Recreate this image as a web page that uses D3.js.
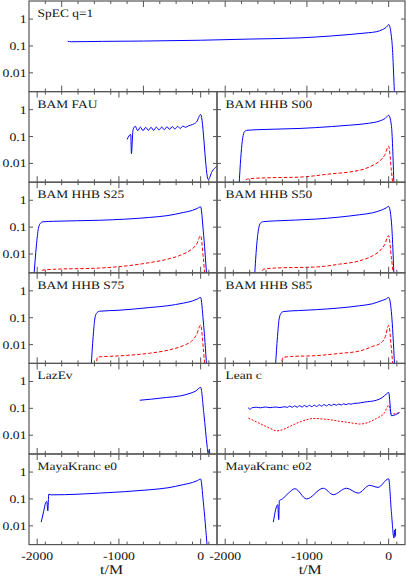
<!DOCTYPE html>
<html>
<head>
<meta charset="utf-8">
<script src="https://cdn.jsdelivr.net/npm/d3@7"></script>
<style>
body { margin: 0; background: #fff; }
text { text-rendering: geometricPrecision; }
</style>
</head>
<body>
<div id="chart"></div>
<script>
// waveform amplitude, [t/M, |h|]
var spec_q1 = [[-3926,0.148],[-3880,0.143],[-3500,0.148],[-3000,0.152],[-2300,0.163],[-1700,0.18],[-1083,0.2],[-700,0.235],[-471,0.267],[-250,0.31],[-144,0.34],[-80,0.4],[-43,0.46],[-15,0.55],[0,0.63],[39,0.16],[71,0.0015]];

var bam_fau = [[-900,0.078],[-855,0.12],[-847,0.023],[-827,0.18],[-800,0.24],[-770,0.165],[-737,0.225],[-705,0.165],[-672,0.22],[-640,0.17],[-607,0.22],[-575,0.17],[-542,0.225],[-510,0.175],[-477,0.225],[-445,0.18],[-412,0.23],[-380,0.185],[-347,0.235],[-315,0.19],[-282,0.24],[-250,0.2],[-217,0.245],[-185,0.22],[-150,0.25],[-100,0.28],[-50,0.35],[0,0.66],[93,0.0025],[140,0.005],[196,0.0078]];

var s00_blue = [[-1830,0.0015],[-1810,0.015],[-1790,0.07],[-1770,0.14],[-1740,0.17],[-1600,0.18],[-1085,0.2],[-700,0.235],[-476,0.265],[-250,0.31],[-110,0.38],[-40,0.48],[0,0.62],[33,0.265],[65,0.0015]];
var s00_red = [[-1760,0.0015],[-1745,0.0025],[-1700,0.0027],[-1500,0.0029],[-1085,0.0031],[-700,0.0041],[-476,0.0048],[-300,0.0062],[-190,0.0086],[-100,0.013],[-50,0.02],[0,0.044],[33,0.0056],[52,0.0015]];

var s25_blue = [[-2040,0.0015],[-2010,0.02],[-1985,0.09],[-1960,0.14],[-1931,0.158],[-1800,0.165],[-1236,0.18],[-622,0.23],[-400,0.27],[-213,0.35],[-100,0.42],[-40,0.5],[0,0.57],[32,0.073],[74,0.0015]];
var s25_red = [[-1955,0.0015],[-1935,0.0025],[-1800,0.0027],[-1236,0.003],[-622,0.0048],[-400,0.0065],[-213,0.01],[-100,0.016],[-50,0.023],[0,0.048],[32,0.0075],[52,0.0015]];

var s50_blue = [[-1640,0.0015],[-1615,0.02],[-1590,0.09],[-1570,0.14],[-1533,0.16],[-1400,0.17],[-882,0.2],[-354,0.29],[-200,0.34],[-89,0.43],[-30,0.52],[0,0.59],[33,0.17],[65,0.0015]];
var s50_red = [[-1555,0.0015],[-1535,0.0027],[-1400,0.003],[-882,0.0033],[-600,0.0042],[-354,0.0056],[-200,0.0085],[-110,0.013],[-50,0.022],[0,0.048],[33,0.0075],[60,0.0015]];

var s75_blue = [[-1340,0.0015],[-1315,0.02],[-1295,0.09],[-1276,0.143],[-1236,0.175],[-1000,0.19],[-622,0.24],[-400,0.28],[-213,0.35],[-100,0.42],[-40,0.5],[0,0.57],[32,0.076],[74,0.0015]];
var s75_red = [[-1280,0.0015],[-1262,0.0034],[-1236,0.0035],[-1000,0.0038],[-622,0.0048],[-400,0.0062],[-213,0.0092],[-100,0.0145],[-50,0.0236],[0,0.053],[32,0.0074],[52,0.0015]];

var s85_blue = [[-1385,0.0015],[-1360,0.02],[-1340,0.09],[-1320,0.14],[-1289,0.17],[-1100,0.185],[-882,0.2],[-354,0.28],[-200,0.33],[-89,0.43],[-30,0.5],[0,0.57],[33,0.17],[73,0.0015]];
var s85_red = [[-1315,0.0015],[-1295,0.0033],[-1200,0.0036],[-882,0.0039],[-600,0.0047],[-354,0.0058],[-200,0.0085],[-89,0.0119],[-40,0.02],[0,0.052],[33,0.0075],[52,0.0015]];

var lazev = [[-745,0.2],[-600,0.22],[-417,0.254],[-250,0.29],[-131,0.36],[-60,0.44],[0,0.6],[40,0.06],[81,0.0035],[93,0.0018],[106,0.003],[114,0.0015]];

var lean_blue = [[-1716,0.107],[-1700,0.092],[-1670,0.105],[-1620,0.11],[-1570,0.105],[-1510,0.112],[-1450,0.106],[-1390,0.112],[-1330,0.107],[-1270,0.115],[-1240,0.108],[-1210,0.122],[-1180,0.109],[-1150,0.124],[-1120,0.11],[-1090,0.126],[-1060,0.112],[-1030,0.128],[-1000,0.113],[-970,0.13],[-940,0.115],[-910,0.132],[-880,0.117],[-850,0.135],[-820,0.12],[-790,0.138],[-760,0.123],[-730,0.14],[-700,0.126],[-670,0.143],[-640,0.13],[-610,0.145],[-580,0.133],[-550,0.148],[-520,0.137],[-490,0.15],[-460,0.142],[-430,0.152],[-380,0.155],[-300,0.17],[-150,0.2],[-80,0.25],[-28,0.34],[0,0.39],[33,0.053],[134,0.07]];
var lean_red = [[-1716,0.043],[-1650,0.035],[-1550,0.025],[-1450,0.018],[-1370,0.0145],[-1300,0.016],[-1200,0.022],[-1100,0.03],[-1000,0.038],[-923,0.042],[-800,0.04],[-700,0.037],[-600,0.033],[-500,0.03],[-400,0.027],[-354,0.026],[-250,0.03],[-150,0.042],[-50,0.069],[0,0.13],[33,0.061],[134,0.07]];

var maya_e0 = [[-1951,0.0137],[-1920,0.035],[-1898,0.07],[-1882,0.081],[-1870,0.036],[-1858,0.15],[-1828,0.142],[-1500,0.15],[-1236,0.165],[-622,0.22],[-400,0.26],[-213,0.34],[-100,0.41],[-40,0.48],[0,0.55],[32,0.081],[81,0.0015]];
var maya_e02 = [[-1411,0.0137],[-1357,0.061],[-1345,0.017],[-1337,0.086],[-1300,0.1],[-1230,0.16],[-1146,0.24],[-1004,0.1],[-800,0.25],[-678,0.144],[-516,0.25],[-373,0.165],[-232,0.32],[-130,0.27],[0,0.56],[33,0.034],[65,0.0035],[73,0.007],[80,0.004],[85,0.0078]];

var panel_labels = ['SpEC q=1', 'BAM FAU', 'BAM HHB S00', 'BAM HHB S25', 'BAM HHB S50',
    'BAM HHB S75', 'BAM HHB S85', 'LazEv', 'Lean c', 'MayaKranc e0', 'MayaKranc e02'];
var blue_series = [spec_q1, bam_fau, s00_blue, s25_blue, s50_blue, s75_blue, s85_blue, lazev, lean_blue, maya_e0, maya_e02];
var red_series = [null, null, s00_red, s25_red, s50_red, s75_red, s85_red, null, lean_red, null, null];

var y_ticks = [1, 0.1, 0.01];
var y_tick_labels = ['1', '0.1', '0.01'];
var x_major = [-4000, -3000, -2000, -1000, 0];

var chart_width = 407;
var chart_height = 578;
var x_left = 29, x_mid = 217, x_right = 405;
var panel_top = 1, panel_h = 90.6;
var frame_color = '#555';

var svg = d3.select('#chart')
    .append('svg')
    .attr('width', chart_width)
    .attr('height', chart_height);

var y = d3.scaleLog()
    .domain([0.002, 4.7])
    .range([panel_h, 0]);

function add_text(g, x, y0, txt, size, anchor) {
    return g.append('text')
        .attr('transform', 'translate(' + x + ',' + y0 + ') scale(1.18,1)')
        .attr('text-anchor', anchor)
        .attr('font-family', 'Liberation Serif')
        .attr('font-size', size)
        .attr('fill', '#111')
        .text(txt);
}

panel_labels.forEach(function(label, i) {
    var row, x0, x1, domain;
    if (i === 0) {
        row = 0; x0 = x_left; x1 = x_right; domain = [-4400, 200];
    } else {
        row = Math.ceil(i / 2);
        x0 = (i % 2 === 1) ? x_left : x_mid;
        x1 = (i % 2 === 1) ? x_mid : x_right;
        domain = [-2100, 200];
    }
    var w = x1 - x0;
    var top = panel_top + row * panel_h;
    var x = d3.scaleLinear().domain(domain).range([0, w]);

    var g = svg.append('g')
        .attr('transform', 'translate(' + x0 + ',' + top + ')');

    g.append('clipPath')
        .attr('id', 'clip' + i)
        .append('rect')
        .attr('width', w)
        .attr('height', panel_h);

    var line = d3.line()
        .x(function(d) { return x(d[0]); })
        .y(function(d) { return y(d[1]); })
        .curve(d3.curveMonotoneX);

    if (red_series[i]) {
        g.append('path')
            .datum(red_series[i])
            .attr('clip-path', 'url(#clip' + i + ')')
            .attr('fill', 'none')
            .attr('stroke', '#ff0000')
            .attr('stroke-width', 1)
            .attr('stroke-dasharray', i === 8 ? '2,1.5' : '3.5,2')
            .attr('d', line);
    }
    g.append('path')
        .datum(blue_series[i])
        .attr('clip-path', 'url(#clip' + i + ')')
        .attr('fill', 'none')
        .attr('stroke', '#0000ff')
        .attr('stroke-width', 1)
        .attr('d', line);

    // ticks, all pointing inward
    var minor = d3.range(domain[0], domain[1] + 1, 200).filter(function(t) {
        return t > domain[0] && t < domain[1] && x_major.indexOf(t) < 0;
    });
    var major = x_major.filter(function(t) { return t > domain[0] && t < domain[1]; });
    [[minor, 3], [major, 6]].forEach(function(set) {
        set[0].forEach(function(t) {
            g.append('line').attr('x1', x(t)).attr('x2', x(t)).attr('y1', 0).attr('y2', set[1])
                .attr('stroke', frame_color);
            g.append('line').attr('x1', x(t)).attr('x2', x(t)).attr('y1', panel_h).attr('y2', panel_h - set[1])
                .attr('stroke', frame_color);
        });
    });
    y_ticks.forEach(function(v) {
        g.append('line').attr('x1', 0).attr('x2', 4).attr('y1', y(v)).attr('y2', y(v))
            .attr('stroke', frame_color);
        g.append('line').attr('x1', w).attr('x2', w - 4).attr('y1', y(v)).attr('y2', y(v))
            .attr('stroke', frame_color);
    });

    g.append('rect')
        .attr('width', w)
        .attr('height', panel_h)
        .attr('fill', 'none')
        .attr('stroke', frame_color)
        .attr('stroke-width', 1.2);

    add_text(g, 8.5, 16, label, 11.4, 'start');

    if (x0 === x_left) {
        y_ticks.forEach(function(v, k) {
            add_text(g, -2.5, y(v) + 4, y_tick_labels[k], 11.6, 'end');
        });
    }
    if (row === 5) {
        [-2000, -1000, 0].forEach(function(t) {
            add_text(g, x(t), panel_h + 15.5, t === 0 ? '0' : String(t), 11.6, 'middle');
        });
        add_text(g, x(i === 9 ? -1090 : -960), panel_h + 29.5, 't/M', 13.5, 'middle');
    }
});
</script>
</body>
</html>
